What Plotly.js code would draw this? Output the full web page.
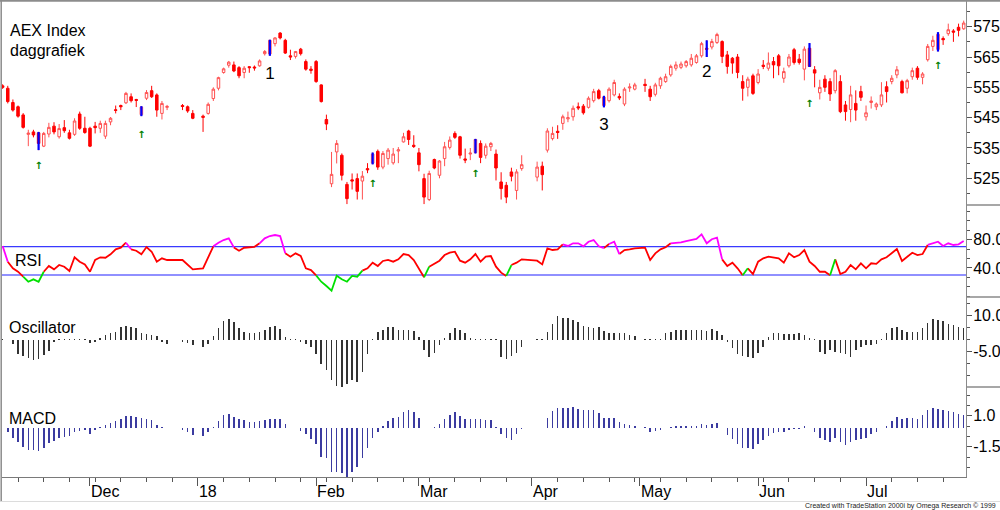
<!DOCTYPE html>
<html><head><meta charset="utf-8">
<script src="https://cdn.plot.ly/plotly-3.0.1.min.js"></script>
<style>html,body{margin:0;padding:0;background:#fff;} #chart{width:1000px;height:510px;}</style>
</head><body><div id="chart"></div>
<script>
// x = weekday slot, slot 0 = Wed 8 Nov 2017 ... slot 187 = Fri 27 Jul 2018 (holidays = null)
const monthTicks = [17,38,61,81,103,124,147,168];
const monthLabels = ['Dec','18','Feb','Mar','Apr','May','Jun','Jul'];
const weekTicks = [3,8,13,18,23,28,33,38,43,48,53,58,63,68,73,78,83,88,93,98,103,108,113,118,123,128,133,138,143,148,153,158,163,168,173,178,183];

const open = [555.5,554.7,550.0,548.6,545.9,539.5,540.3,540.0,535.6,539.6,
542.2,538.7,541.7,540.0,539.5,546.2,541.5,541.5,542.2,541.5,
538.9,543.6,547.6,549.0,549.9,551.9,551.0,546.0,551.4,553.9,
552.5,546.4,548.4,null,null,549.0,548.6,546.4,null,545.5,
546.4,551.3,554.7,559.9,562.3,562.4,561.5,559.9,561.8,561.7,
562.1,566.1,566.0,569.4,572.9,570.5,565.4,565.2,567.6,563.5,
561.0,563.5,555.8,544.4,523.2,533.7,532.6,523.0,524.5,524.9,
524.1,528.2,530.0,533.9,528.7,531.5,530.1,534.0,537.0,540.6,
535.9,533.4,524.9,518.0,531.2,526.0,531.5,535.2,539.8,538.7,
531.4,533.0,533.5,536.5,532.6,535.4,533.0,523.8,522.7,527.1,
521.0,528.2,null,null,525.4,529.0,534.3,538.1,540.5,543.1,
544.6,545.3,548.6,548.8,548.4,550.6,553.9,549.0,550.6,552.5,
552.0,549.5,554.8,554.4,null,556.0,554.4,552.7,555.5,556.9,
559.1,561.3,561.6,562.1,562.4,563.2,565.4,567.9,568.3,569.8,
570.1,565.7,564.6,565.0,556.9,555.0,558.8,556.6,562.3,561.3,
563.5,565.4,558.0,562.1,567.4,564.3,561.0,567.9,560.8,553.2,
557.7,556.9,553.9,556.9,549.2,547.7,549.7,553.6,545.3,550.0,
548.6,549.2,555.2,556.9,559.1,556.9,554.7,558.5,561.3,558.3,
564.1,568.5,567.5,571.1,572.7,573.6,574.8,574.3];

const high = [556.0,555.5,551.0,549.0,546.5,541.0,541.0,540.3,540.3,543.3,
543.5,542.9,544.2,541.0,544.8,547.0,545.3,542.0,543.6,544.0,
544.0,545.2,549.0,549.3,553.5,553.0,551.2,548.8,554.1,555.5,
553.0,550.5,549.2,null,null,549.5,549.0,547.5,null,546.0,
550.0,555.0,558.5,561.5,563.7,563.5,562.0,562.0,562.0,562.2,
564.2,567.3,570.7,571.5,573.2,571.0,567.4,567.0,568.0,564.2,
562.0,564.0,556.0,546.0,533.7,537.6,533.2,523.8,526.6,526.6,
527.4,530.0,533.5,534.5,534.0,535.0,535.0,535.3,540.0,541.0,
539.2,535.0,526.5,527.5,531.5,531.0,537.0,538.8,540.5,539.0,
534.8,535.0,538.0,537.5,536.5,537.0,534.5,527.0,523.8,528.5,
528.0,532.6,null,null,530.5,530.5,541.5,542.0,542.5,546.0,
547.0,549.0,550.0,549.5,552.0,554.5,554.5,552.2,555.0,557.5,
553.0,555.0,556.3,556.5,null,557.8,555.5,556.5,558.5,559.5,
562.5,563.5,563.5,564.0,566.0,566.0,570.0,570.5,571.0,573.0,
570.5,567.0,565.0,566.0,559.0,558.5,559.5,561.0,564.0,566.5,
565.0,566.0,561.5,566.0,568.0,566.0,568.5,569.6,562.0,557.5,
559.0,558.0,561.0,559.0,550.5,555.5,554.0,555.5,549.0,552.0,
550.0,556.7,557.0,559.0,562.0,557.5,557.8,561.5,562.0,560.0,
569.3,572.0,573.2,571.8,576.0,574.2,576.0,577.0];

const low = [554.5,549.7,547.0,545.0,541.4,535.6,538.5,534.3,535.3,538.5,
539.5,538.1,540.0,537.8,539.0,541.0,539.7,535.3,539.8,540.0,
538.0,542.5,546.4,547.5,549.5,550.0,548.5,545.5,550.8,551.5,
545.3,544.4,547.5,null,null,547.5,546.6,544.5,null,540.3,
546.0,550.5,554.0,559.5,561.5,560.0,558.0,558.0,559.8,560.5,
561.8,565.5,565.4,568.5,570.8,566.0,564.0,564.5,565.5,560.5,
559.5,556.5,550.0,540.9,522.1,529.9,524.3,516.5,521.3,518.0,
518.0,526.7,529.6,527.8,528.0,529.5,529.5,530.0,536.8,536.0,
535.0,527.3,516.5,517.5,528.0,525.0,529.0,534.5,538.0,531.5,
530.0,531.0,533.2,530.0,531.5,534.0,524.3,518.0,516.8,524.0,
518.0,527.5,null,null,524.0,521.0,533.5,537.5,538.0,541.0,
543.5,544.0,547.5,546.0,548.0,550.0,551.0,548.4,550.0,552.0,
550.8,548.8,553.5,554.0,null,553.5,550.5,552.0,554.5,556.5,
558.5,560.5,561.0,561.5,561.8,562.8,564.8,565.0,567.5,569.3,
563.0,559.5,559.5,558.0,550.6,552.0,552.5,556.0,561.0,560.5,
558.0,559.0,556.5,561.5,562.5,562.5,557.3,561.7,555.0,551.0,
553.5,550.5,553.0,546.5,544.0,543.5,544.0,550.5,544.0,548.0,
547.5,548.5,550.0,556.0,558.0,553.0,553.0,557.5,557.5,556.0,
563.5,567.0,566.8,569.0,572.0,570.0,571.8,574.0];

const close = [555.0,550.3,547.5,545.5,541.8,539.9,539.3,536.5,539.8,541.8,
540.3,541.4,540.7,538.2,543.9,541.5,540.1,535.6,541.7,543.1,
543.1,544.8,547.4,548.6,553.0,550.6,550.7,548.5,553.3,551.9,
547.5,549.7,548.7,null,null,548.7,547.2,544.8,null,545.1,
549.4,554.4,558.2,561.1,563.3,560.4,558.8,561.3,561.5,561.4,
563.7,566.8,570.5,571.3,571.3,566.3,565.0,566.8,566.1,561.0,
560.6,556.9,550.3,542.9,526.3,536.5,526.0,518.3,524.1,520.7,
525.7,527.8,533.0,528.7,533.2,534.3,533.0,534.4,538.7,537.8,
535.5,529.5,518.8,526.6,528.4,530.7,535.4,537.6,538.5,532.6,
531.0,533.3,537.8,531.9,535.6,536.5,528.4,521.6,518.8,525.7,
527.1,529.5,null,null,528.7,526.2,540.6,539.8,540.1,545.3,
545.0,548.1,548.2,546.6,551.4,553.6,551.4,551.8,554.4,556.6,
551.5,554.4,555.1,555.8,null,555.6,551.9,555.8,558.0,558.5,
561.9,562.4,562.7,563.5,564.6,565.4,569.4,567.5,570.1,572.4,
565.2,561.9,563.0,559.9,554.7,557.7,553.0,559.4,561.9,563.0,
562.4,562.1,560.2,565.0,563.2,563.2,567.6,561.9,559.7,555.0,
555.0,552.8,560.5,547.0,547.0,552.5,547.5,551.7,546.6,550.5,
549.5,552.5,553.6,558.0,560.8,553.2,557.2,560.5,558.3,559.4,
568.5,570.5,572.5,570.7,574.0,573.2,573.8,576.2];

const rsi = [71,48.8,39.4,34.7,27.6,20.5,23.9,20.5,34.6,42.7,
38,44.1,41.7,35.6,55,48.8,45,34.6,51.2,55,
54.4,59.2,66.3,68.6,75.6,66.3,64.3,59.2,69.5,62.9,
48.8,53.5,51.2,null,null,51.2,44.1,38,null,39.4,
55.9,70.5,75.6,79.4,81.8,69,64.3,68.5,69.1,69.8,
74.8,81.8,85.1,86.5,85.1,60.6,55.9,60.6,56.8,39.4,
37,29.5,20.5,14.4,7.8,29,23.9,20.5,28.6,27.6,
36.1,39.4,47.4,42.7,49.8,51.2,48.8,52.1,59.6,58.2,
51.2,39.4,26.7,41.7,46.5,50.2,58.2,61.5,62.9,50.2,
47.4,52.1,59.6,48.8,55.9,56.8,41.7,33.3,28.6,44.1,
47.4,52.1,null,null,50.2,45,67.7,65.3,66.3,73.3,
71,74.8,74.8,70.5,77,79.4,70.5,68,73.8,77,
59.6,65.3,66.3,67.7,null,68.6,51.2,60.6,66.3,69.1,
74.8,75.6,76,77.9,79.4,80.9,87.4,74.8,80.5,82.8,
52.1,42.7,47.4,39.4,29.5,39.4,31.4,48.8,53.5,55.9,
55,53.5,47.4,60.6,55,58.2,65.3,48.8,42.7,34.6,
34.6,29.5,52.1,31.4,34.6,44.1,38,46.5,39.4,46.5,
45.7,52.1,55,60.6,66.8,49.8,55.9,61.5,58.2,59.6,
72.4,74.8,77,71,74.8,72.4,73.3,77.9];

const oscillator = [0.3,-0.3,-1.6,-5.8,-6.9,-7.4,-8.3,-7.9,-6.5,-4.7,
-0.9,0.3,0.3,0.2,0.3,0.3,0.2,-1.2,-0.8,0.9,
1.9,2.6,3.3,5.3,5.6,5.3,4.7,2.6,2.3,1.9,
1.5,-0.9,-1.6,null,null,-0.8,-1.2,-2.3,null,-3.1,
-1.6,1.5,4.7,7.9,8.5,7.5,4.7,3.3,2.6,2.6,
3.3,4.0,5.3,5.6,4.3,1.2,0.2,0.2,-0.8,-1.6,
-3.1,-5.8,-9.9,-12.7,-16.9,-19,-19.4,-18.3,-16.9,-17.6,
-13.4,-5.8,0.3,3.3,4.2,5.1,5.4,4.2,4.2,4.2,
3.7,1.2,-4.4,-7.2,-5.5,-2.3,0.9,2.6,4.7,4.0,
2.8,0.9,0.5,0.3,0.2,0.2,0.1,-7.2,-7.9,-6.9,
-5.5,-3.1,null,null,0.3,0.3,3.3,6.5,9.8,8.9,
8.9,8.2,7.5,5.6,5.1,4.7,5.4,3.7,2.8,2.8,
2.8,2.6,1.9,1.5,null,0.3,0.3,0.3,0.3,2.6,
3.3,4.0,4.0,4.0,4.0,4.0,4.0,3.7,4.3,3.7,
1.9,-0.8,-3.6,-5.8,-6.9,-7.2,-7.5,-5.5,-3.1,1.2,
2.6,2.6,2.3,2.3,2.3,2.6,1.9,0.9,0.2,-5.1,
-5.8,-4.4,-5.1,-5.5,-5.8,-7.2,-4.2,-3.1,-2.3,-2.3,
-1.6,0.4,2.6,4.7,5.4,4.0,3.3,3.3,3.3,4.7,
6.8,8.5,8.2,7.9,6.5,6.0,5.4,4.7];

const macd = [0.02,-0.27,-0.75,-1.08,-1.48,-1.75,-1.75,-1.83,-1.6,-1.2,
-1.0,-0.8,-0.67,-0.6,-0.27,-0.2,-0.13,-0.48,-0.13,0.13,
0.27,0.4,0.6,0.75,1.02,1.02,0.94,0.8,0.75,0.67,
0.27,0.13,0.02,null,null,-0.13,-0.27,-0.54,null,-0.6,
-0.27,0.13,0.6,1.08,1.13,0.94,0.75,0.67,0.54,0.48,
0.6,0.67,0.75,0.75,0.75,0.32,0.02,0.02,-0.2,-0.48,
-0.86,-1.29,-2.28,-2.37,-3.5,-3.55,-3.63,-3.98,-3.5,-3.1,
-2.42,-1.6,-0.8,-0.32,0.22,0.6,0.8,0.94,1.34,1.48,
1.29,0.86,0.02,0.05,0.13,0.32,0.75,1.08,1.34,1.02,
0.75,0.75,0.75,0.75,0.67,0.67,0.13,-0.48,-0.8,-0.94,
-0.48,-0.05,null,null,0.02,0.02,0.8,1.4,1.6,1.67,
1.67,1.75,1.56,1.48,1.48,1.48,1.21,0.86,0.86,0.8,
0.54,0.32,0.27,0.22,null,0.13,-0.27,-0.2,-0.13,0.05,
0.13,0.22,0.22,0.22,0.22,0.22,0.32,0.27,0.32,0.4,
0.02,-0.54,-0.86,-1.29,-1.56,-1.56,-1.67,-1.29,-0.94,-0.6,
-0.4,-0.32,-0.27,-0.13,-0.05,-0.05,0.22,0.02,-0.32,-0.75,
-0.94,-1.08,-0.8,-1.13,-1.34,-1.08,-0.94,-0.86,-0.8,-0.48,
-0.27,0.05,0.22,0.6,0.94,0.75,0.8,0.86,0.75,1.08,
1.48,1.61,1.56,1.48,1.4,1.29,1.13,1.08];

const signalDays = [7,27,52,72,92,117,137,157,182];
const arrowDays = [7,27,72,92,157,182];
const arrowPrice = [528.9,539.1,523.1,526.4,549.4,561.8];
const waveLabels = ['1','2','3'];
const waveDays = [52,137,117];
const wavePrice = [559.2,559.9,542.4];
const rsiUpper = 70, rsiLower = 30;

const FONT = 'Arial, "Liberation Sans", Helvetica, sans-serif';
const X = open.map((_, i) => i);
const traces = [];

traces.push({type:'candlestick', x:X, open:open, high:high, low:low, close:close,
  xaxis:'x', yaxis:'y', whiskerwidth:0, hoverinfo:'skip', showlegend:false,
  increasing:{line:{color:'#FF5050', width:1}, fillcolor:'#FFFFFF'},
  decreasing:{line:{color:'#FF0000', width:1}, fillcolor:'#FF0000'}});

const bx = [], by = [];
signalDays.forEach(s => { bx.push(s, s, null); by.push(low[s], high[s], null); });
traces.push({type:'scatter', mode:'lines', x:bx, y:by, xaxis:'x', yaxis:'y',
  line:{color:'#0000FF', width:2.2}, hoverinfo:'skip', showlegend:false});

traces.push({type:'scatter', mode:'text', x:arrowDays, y:arrowPrice, text:arrowDays.map(() => '\u2191'),
  textfont:{family:'"DejaVu Sans", sans-serif', size:10, color:'#008000', weight:'bold'},
  textposition:'middle center', xaxis:'x', yaxis:'y', hoverinfo:'skip', showlegend:false});

traces.push({type:'scatter', mode:'text', x:waveDays, y:wavePrice, text:waveLabels,
  textfont:{family:FONT, size:17, color:'#000'}, textposition:'middle center',
  xaxis:'x', yaxis:'y', hoverinfo:'skip', showlegend:false});

// RSI coloured segments
const rsiColor = v => v > rsiUpper ? '#FF00FF' : (v < rsiLower ? '#00E000' : '#FF0000');
const segs = {};
let prev = null;
for (let i = 0; i < rsi.length; i++) {
  if (rsi[i] == null) continue;
  if (prev !== null) {
    const c = rsiColor(rsi[prev]);
    if (!segs[c]) segs[c] = {x:[], y:[], last:null};
    const s = segs[c];
    if (s.last !== prev) {
      if (s.x.length) { s.x.push(null); s.y.push(null); }
      s.x.push(prev); s.y.push(rsi[prev]);
    }
    s.x.push(i); s.y.push(rsi[i]); s.last = i;
  }
  prev = i;
}
['#FF0000', '#FF00FF', '#00E000'].forEach(c => {
  if (segs[c]) traces.push({type:'scatter', mode:'lines', x:segs[c].x, y:segs[c].y,
    xaxis:'x', yaxis:'y2', connectgaps:false, line:{color:c, width:1.8},
    hoverinfo:'skip', showlegend:false});
});

traces.push({type:'bar', x:X, y:oscillator, xaxis:'x', yaxis:'y3', width:0.3,
  marker:{color:'#333333', line:{width:0}}, hoverinfo:'skip', showlegend:false});
traces.push({type:'bar', x:X, y:macd, xaxis:'x', yaxis:'y4', width:0.3,
  marker:{color:'#3B3BA0', line:{width:0}}, hoverinfo:'skip', showlegend:false});

const H = 510;
const py = px => 1 - px / H;
const axisCommon = {side:'right', anchor:'x', showgrid:false, zeroline:false, showline:true,
  linecolor:'#8a8a8a', linewidth:1, ticks:'outside', ticklen:5, tickcolor:'#555', tickwidth:1,
  ticklabelstandoff:-2,
  tickfont:{family:FONT, size:16, color:'#000'}, fixedrange:true};

const layout = {
  width:1000, height:510, margin:{l:0, r:0, t:0, b:0},
  paper_bgcolor:'#FFFFFF', plot_bgcolor:'#FFFFFF', showlegend:false, hovermode:false,
  font:{family:FONT, size:16, color:'#000'}, bargap:0,
  xaxis:{domain:[0.002, 0.966], range:[-0.12, 187.45], anchor:'y4', showgrid:false, zeroline:false,
    showline:true, linecolor:'#7a7a7a', linewidth:1, tickmode:'array', tickvals:monthTicks, ticktext:monthLabels,
    ticks:'outside', ticklen:8, tickcolor:'#555', tickwidth:1, ticklabelposition:'outside right',
    tickfont:{family:FONT, size:16, color:'#000'}, rangeslider:{visible:false}, fixedrange:true,
    minor:{tickmode:'array', tickvals:weekTicks, ticks:'outside', ticklen:4, tickcolor:'#555', tickwidth:1, showgrid:false}},
  yaxis:Object.assign({}, axisCommon, {domain:[py(205), 1], range:[516.2, 583.8],
    tickmode:'linear', tick0:525, dtick:10,
    minor:{tickmode:'linear', tick0:520, dtick:5, ticks:'outside', ticklen:3, tickcolor:'#555', showgrid:false}}),
  yaxis2:Object.assign({}, axisCommon, {domain:[py(297), py(205)], range:[-1.1, 128.9],
    tickmode:'array', tickvals:[40, 80], ticktext:['40.0', '80.0'],
    minor:{tickmode:'linear', tick0:0, dtick:40/3, ticks:'outside', ticklen:3, tickcolor:'#555', showgrid:false}}),
  yaxis3:Object.assign({}, axisCommon, {domain:[py(387), py(297)], range:[-19.6, 17.7],
    tickmode:'array', tickvals:[-5, 10], ticktext:['-5.0', '10.0'],
    minor:{tickmode:'linear', tick0:0, dtick:5, ticks:'outside', ticklen:3, tickcolor:'#555', showgrid:false}}),
  yaxis4:Object.assign({}, axisCommon, {domain:[py(477), py(387)], range:[-3.93, 3.33],
    tickmode:'array', tickvals:[-1.5, 1.0], ticktext:['-1.5', '1.0'],
    minor:{tickmode:'linear', tick0:1, dtick:2.5/3, ticks:'outside', ticklen:3, tickcolor:'#555', showgrid:false}}),
  shapes:[
    {type:'line', xref:'paper', yref:'y2', x0:0.002, x1:0.966, y0:rsiUpper, y1:rsiUpper, layer:'below', line:{color:'#3a3aff', width:1.2}},
    {type:'line', xref:'paper', yref:'y2', x0:0.002, x1:0.966, y0:rsiLower, y1:rsiLower, layer:'below', line:{color:'#9090ff', width:2}},
    {type:'line', xref:'paper', yref:'paper', x0:0.966, x1:1, y0:py(205), y1:py(205), line:{color:'#8a8a8a', width:1.5}},
    {type:'line', xref:'paper', yref:'paper', x0:0.966, x1:1, y0:py(297), y1:py(297), line:{color:'#8a8a8a', width:1.5}},
    {type:'line', xref:'paper', yref:'paper', x0:0.966, x1:1, y0:py(387), y1:py(387), line:{color:'#8a8a8a', width:1.5}},
    {type:'line', xref:'paper', yref:'paper', x0:0, x1:1, y0:py(0.8), y1:py(0.8), line:{color:'#8c8c8c', width:2}},
    {type:'line', xref:'paper', yref:'paper', x0:0.0012, x1:0.0012, y0:py(502), y1:1, line:{color:'#8c8c8c', width:1.5}},
    {type:'line', xref:'paper', yref:'paper', x0:0, x1:1, y0:py(501.5), y1:py(501.5), line:{color:'#dcdcdc', width:1}}
  ],
  annotations:[
    {text:'AEX Index', xref:'paper', yref:'paper', x:0.008, y:py(30), xanchor:'left', yanchor:'middle', showarrow:false, font:{family:FONT, size:16, color:'#000'}},
    {text:'daggrafiek', xref:'paper', yref:'paper', x:0.008, y:py(51), xanchor:'left', yanchor:'middle', showarrow:false, font:{family:FONT, size:16, color:'#000'}},
    {text:'RSI', xref:'paper', yref:'paper', x:0.013, y:py(260), xanchor:'left', yanchor:'middle', showarrow:false, font:{family:FONT, size:16, color:'#000'}},
    {text:'Oscillator', xref:'paper', yref:'paper', x:0.007, y:py(327), xanchor:'left', yanchor:'middle', showarrow:false, font:{family:FONT, size:16, color:'#000'}},
    {text:'MACD', xref:'paper', yref:'paper', x:0.007, y:py(418), xanchor:'left', yanchor:'middle', showarrow:false, font:{family:FONT, size:16, color:'#000'}},
    {text:'Created with TradeStation 2000i by Omega Research \u00A9 1999', xref:'paper', yref:'paper', x:0.998, y:py(505.5), xanchor:'right', yanchor:'middle', showarrow:false, font:{family:FONT, size:7, color:'#222'}}
  ]
};

Plotly.newPlot('chart', traces, layout, {staticPlot:true, displayModeBar:false});
</script></body></html>
